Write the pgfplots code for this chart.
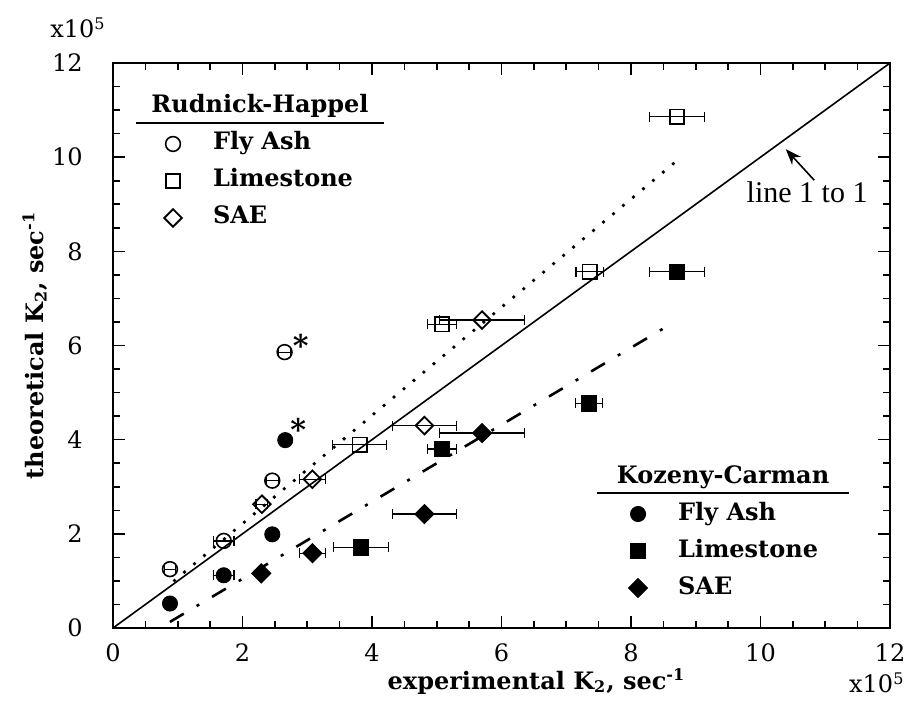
\documentclass[border=0pt]{standalone}
\usepackage{fontspec}
\setmainfont{DejaVu Serif}
\newfontfamily\timesfont{Liberation Serif}
\usepackage{pgfplots}
\usepackage{pgfplotstable}
\pgfplotsset{compat=1.18}
\usetikzlibrary{arrows.meta}

\pgfplotstableread{
x y ex
0.88 1.25 0.09
1.71 1.85 0.16
2.46 3.13 0.09
2.65 5.86 0.09
}\rhfly
\pgfplotstableread{
x y ex
3.81 3.89 0.42
5.08 6.45 0.22
7.36 7.57 0.21
8.71 10.86 0.42
}\rhlime
\pgfplotstableread{
x y ex
2.30 2.63 0.09
3.08 3.16 0.20
4.81 4.30 0.49
5.70 6.54 0.66
}\rhsae
\pgfplotstableread{
x y ex
0.88 0.52 0
1.71 1.12 0.16
2.46 1.99 0
2.66 3.99 0
}\kcfly
\pgfplotstableread{
x y ex
3.83 1.71 0.42
5.08 3.80 0.22
7.35 4.77 0.21
8.71 7.57 0.42
}\kclime
\pgfplotstableread{
x y ex
2.29 1.16 0
3.08 1.59 0.20
4.81 2.42 0.49
5.70 4.14 0.66
}\kcsae

\pgfplotsset{
  myaxis/.style={scale only axis, width=388.5pt, height=282.5pt,
    xmin=0, xmax=12, ymin=0, ymax=12, clip=false,
    at={(0pt,0pt)}, anchor=south west},
  eb/.style={error bars/.cd, x dir=both, x explicit,
    error bar style={line width=0.6pt, black},
    error mark options={rotate=90, mark size=2.5pt, line width=0.6pt, black}},
  mylegimg/.style={legend image code/.code={%
    \path[draw=none, fill=none] (-10pt,-5pt) (10pt,5pt);
    \draw[mark repeat=2,mark phase=2,##1] plot coordinates {(-5pt,0pt) (0pt,0pt) (5pt,0pt)};}},
  mylegend/.style={legend cell align=left,
    legend style={draw=none, fill=none, inner sep=0pt, outer sep=0pt,
      at={#1}, anchor=north west, row sep=6.5pt, column sep=10pt,
      nodes={inner sep=0pt, text height=9pt, text depth=3pt,
        font=\fontsize{12}{14}\selectfont\bfseries}}},
}

\begin{document}
\begin{tikzpicture}
\begin{axis}[myaxis,
  xtick={0,2,...,12}, ytick={0,2,...,12}, minor tick num=3,
  tick align=inside, major tick length=6pt, minor tick length=3.5pt,
  tick style={line width=0.8pt, black},
  axis line style={line width=1.2pt},
  ticklabel style={font=\fontsize{12}{14}\selectfont, inner sep=0pt},
  xticklabel style={anchor=north, yshift=-7.5pt},
  yticklabel style={anchor=east, xshift=-15pt},
  xticklabel={\pgfmathprintnumber[assume math mode=true]{\tick}},
  yticklabel={\pgfmathprintnumber[assume math mode=true]{\tick}},
  xlabel={experimental K\textsubscript{2}, sec\textsuperscript{-1}},
  ylabel={theoretical K\textsubscript{2}, sec\textsuperscript{-1}},
  label style={font=\fontsize{12}{14}\selectfont\bfseries},
  xlabel style={at={(axis description cs:0.545,-0.108)}, anchor=base},
  ylabel style={at={(axis description cs:-0.090,0.5)}, anchor=base},
  mylegend={(axis description cs:0.0515,0.9434)},
]
\addplot[forget plot, line width=0.8pt, black] coordinates {(0,0) (12,12)};
\addplot[forget plot, line width=1.9pt, black, line cap=round, dash pattern=on 0pt off 6.5pt] coordinates {(0.95,1.01) (8.67,9.88)};
\addplot[forget plot, line width=1.3pt, black, dash pattern=on 8pt off 7.5pt on 1.5pt off 7.5pt] coordinates {(0.88,0.13) (8.51,6.37)};

\addlegendimage{empty legend}
\addlegendentry{\makebox[0pt][l]{\hspace*{-39pt}\rlap{\rule[-5.3pt]{124pt}{0.6pt}}\makebox[124pt][c]{Rudnick-Happel}}}
\addplot[only marks, mylegimg, black, mark=o, mark size=3.7pt, line width=0.8pt, eb] table[x=x, y=y, x error=ex] {\rhfly};
\addlegendentry{Fly Ash}
\addplot[only marks, mylegimg, black, mark=square, mark size=3.6pt, line width=0.8pt, eb] table[x=x, y=y, x error=ex] {\rhlime};
\addlegendentry{Limestone}
\addplot[only marks, mylegimg, black, mark=square, mark size=3.1pt, mark options={rotate=45}, line width=0.9pt, eb] table[x=x, y=y, x error=ex] {\rhsae};
\addlegendentry{SAE}

\node[font=\bfseries\fontsize{15}{17}\selectfont] at (axis cs:2.90,6.00) {*};
\node[font=\bfseries\fontsize{15}{17}\selectfont] at (axis cs:2.86,4.21) {*};
\node[font=\timesfont\fontsize{15}{17}\selectfont] at (axis cs:10.72,9.26) {line 1 to 1};
\draw[-{Stealth[length=8pt,width=6pt]}, line width=0.8pt] (axis cs:10.83,9.51) -- (axis cs:10.39,10.17);
\node[font=\fontsize{12}{14}\selectfont] at (rel axis cs:-0.045,1.062) {x10\textsuperscript{5}};
\node[font=\fontsize{12}{14}\selectfont] at (rel axis cs:0.983,-0.097) {x10\textsuperscript{5}};
\end{axis}

\begin{axis}[myaxis, hide axis,
  mylegend={(axis description cs:0.650,0.2885)},
]
\addlegendimage{empty legend}
\addlegendentry{\makebox[0pt][l]{\hspace*{-41pt}\rlap{\rule[-5.3pt]{126pt}{0.6pt}}\makebox[126pt][c]{Kozeny-Carman}}}
\addplot[only marks, mylegimg, black, mark=*, mark size=3.8pt, fill=black, eb] table[x=x, y=y, x error=ex] {\kcfly};
\addlegendentry{Fly Ash}
\addplot[only marks, mylegimg, black, mark=square*, mark size=3.8pt, fill=black, eb] table[x=x, y=y, x error=ex] {\kclime};
\addlegendentry{Limestone}
\addplot[only marks, mylegimg, black, mark=square*, mark size=3.4pt, mark options={rotate=45}, fill=black, eb] table[x=x, y=y, x error=ex] {\kcsae};
\addlegendentry{SAE}
\end{axis}

\pgfresetboundingbox
\path (-56.5pt,-43pt) rectangle (403pt,314pt);
\end{tikzpicture}
\end{document}
